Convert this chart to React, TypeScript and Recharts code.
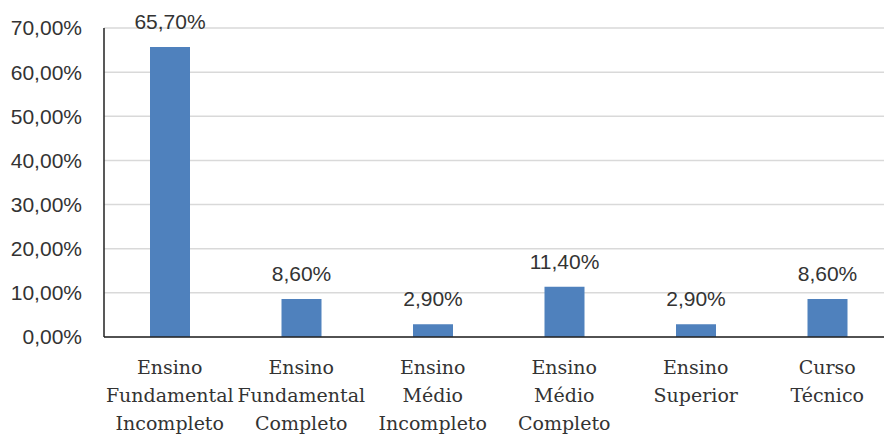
import React from "react"
import { BarChart, Bar, XAxis, YAxis, CartesianGrid, LabelList } from "recharts"

const categories = [
  "Ensino\nFundamental\nIncompleto",
  "Ensino\nFundamental\nCompleto",
  "Ensino\nMédio\nIncompleto",
  "Ensino\nMédio\nCompleto",
  "Ensino\nSuperior",
  "Curso\nTécnico",
]
const percentages = [65.7, 8.6, 2.9, 11.4, 2.9, 8.6]
const yTicks = [0, 10, 20, 30, 40, 50, 60, 70]

const data = categories.map((c, i) => ({ name: c, value: percentages[i] }))

const fmt = (v: number) => v.toFixed(2).replace(".", ",") + "%"

const CategoryTick = (props: any) => {
  const { x, y, payload } = props
  const lines = String(payload.value).split("\n")
  return (
    <text
      x={x}
      y={y}
      textAnchor="middle"
      fill="#333"
      style={{ fontFamily: "'DejaVu Serif', serif", fontSize: 19 }}
    >
      {lines.map((l, i) => (
        <tspan key={i} x={x} dy={i === 0 ? 29 : 28}>
          {l}
        </tspan>
      ))}
    </text>
  )
}

export default function App() {
  return (
    <div
      style={{
        position: "fixed",
        top: 0,
        left: 0,
        width: 884,
        height: 436,
        overflow: "hidden",
        background: "#fff",
      }}
    >
      <BarChart
        width={894}
        height={436}
        data={data}
        margin={{ top: 28, right: 1, left: 0, bottom: 0 }}
        style={{ fontFamily: "'Liberation Sans', sans-serif" }}
      >
        <CartesianGrid vertical={false} stroke="#d9d9d9" strokeWidth={1.5} />
        <XAxis
          dataKey="name"
          height={99}
          interval={0}
          tickLine={false}
          axisLine={{ stroke: "#222", strokeWidth: 1.5 }}
          tick={<CategoryTick />}
        />
        <YAxis
          width={104}
          domain={[0, 70]}
          ticks={yTicks}
          tickFormatter={fmt}
          tickLine={false}
          tickSize={0}
          tickMargin={22}
          axisLine={{ stroke: "#222", strokeWidth: 1.5 }}
          tick={{ fill: "#333", fontSize: 21 }}
        />
        <Bar dataKey="value" fill="#4f81bd" barSize={40} isAnimationActive={false}>
          <LabelList
            dataKey="value"
            position="top"
            offset={18}
            formatter={(v: any) => fmt(Number(v))}
            style={{ fill: "#333", fontSize: 21 }}
          />
        </Bar>
      </BarChart>
    </div>
  )
}
